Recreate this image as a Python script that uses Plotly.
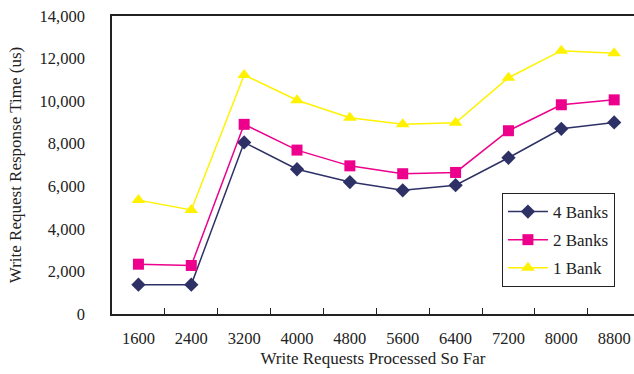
import plotly.graph_objects as go

categories = ["1600", "2400", "3200", "4000", "4800", "5600", "6400", "7200", "8000", "8800"]
banks4 = [1380, 1380, 8060, 6800, 6200, 5810, 6050, 7340, 8700, 9000]
banks2 = [2340, 2280, 8910, 7700, 6960, 6590, 6650, 8610, 9830, 10060]
bank1 = [5350, 4890, 11230, 10040, 9220, 8920, 8980, 11100, 12370, 12250]
y_ticks = [0, 2000, 4000, 6000, 8000, 10000, 12000, 14000]
y_ticklabels = ["0", "2,000", "4,000", "6,000", "8,000", "10,000", "12,000", "14,000"]

font = "Liberation Serif, Times New Roman, serif"

fig = go.Figure()
fig.add_trace(go.Scatter(x=categories, y=banks4, name="4 Banks", mode="lines+markers", legendgroup="a",
                         line=dict(color="#2E3166", width=1.5),
                         marker=dict(symbol="diamond", size=11, color="#2E3166")))
fig.add_trace(go.Scatter(x=categories, y=banks2, name="2 Banks", mode="lines+markers", legendgroup="b",
                         line=dict(color="#EC008C", width=1.5),
                         marker=dict(symbol="square", size=11, color="#EC008C")))
fig.add_trace(go.Scatter(x=categories, y=bank1, name="1 Bank", mode="lines+markers", legendgroup="c",
                         line=dict(color="#FFF200", width=1.5),
                         marker=dict(symbol="triangle-up", size=12, color="#FFF200")))

fig.update_layout(
    width=634, height=374,
    margin=dict(l=112, r=0, t=16, b=60),
    paper_bgcolor="white", plot_bgcolor="white",
    font=dict(family=font, size=17, color="#222222"),
    showlegend=True,
    legend=dict(x=0.747, y=0.406, xanchor="left", yanchor="top",
                bordercolor="#222222", borderwidth=1, bgcolor="white",
                font=dict(family=font, size=17, color="#222222"),
                tracegroupgap=3, itemwidth=40),
    xaxis=dict(
        type="category", range=[-0.5, 9.375],
        showline=True, linecolor="#222222", linewidth=1.5, mirror=True,
        ticks="inside", tickson="boundaries", ticklen=6, tickcolor="#222222",
        showgrid=False, zeroline=False,
        tickfont=dict(family=font, size=16.5, color="#222222"),
        ticklabelstandoff=8,
        title=dict(text="Write Requests Processed So Far", font=dict(family=font, size=17, color="#222222"), standoff=6),
    ),
    yaxis=dict(
        range=[0, 14000], tickvals=y_ticks, ticktext=y_ticklabels,
        showline=True, linecolor="#222222", linewidth=1.5,
        ticks="", showgrid=False, zeroline=False,
        tickfont=dict(family=font, size=16.5, color="#222222"),
        ticklabelstandoff=22,
        title=dict(text="Write Request Response Time (us)", font=dict(family=font, size=17, color="#222222"), standoff=14),
    ),
)

fig.write_html("out.html")
